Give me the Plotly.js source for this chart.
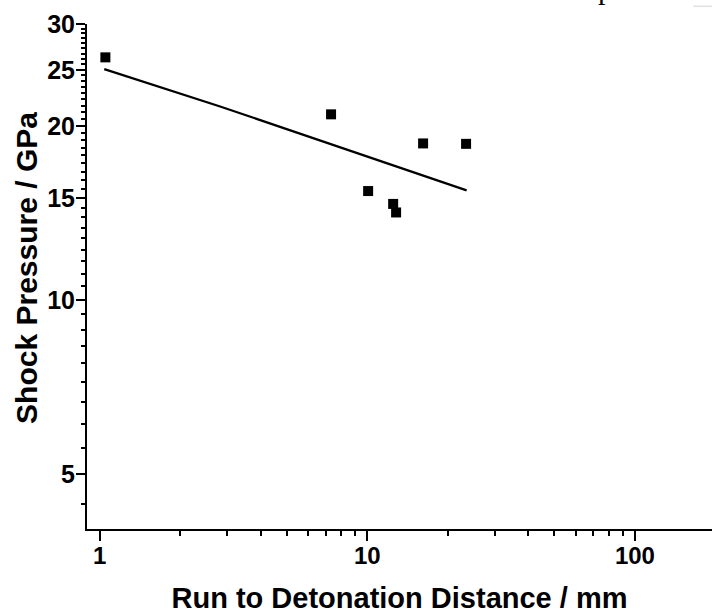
<!DOCTYPE html>
<html>
<head>
<meta charset="utf-8">
<script src="https://cdn.plot.ly/plotly-3.0.1.min.js"></script>
<style>html,body{margin:0;padding:0;background:#fff;overflow:hidden;}</style>
</head>
<body>
<div id="chart" style="width:712px;height:614px;"></div>
<script>
const runDistance = [1.05, 7.32, 10.07, 12.49, 12.81, 16.16, 23.39];   // mm
const shockPressure = [26.27, 20.94, 15.43, 14.66, 14.17, 18.65, 18.62]; // GPa
// Fitted line as drawn in the reference
const fitDistance = [1.04, 2.80, 23.5];
const fitPressure = [25.07, 21.63, 15.47];

// Axis ticks
const xTickVals = [1, 10, 100];
const xTickText = ['1', '10', '100'];
const xMinorVals = [2, 3, 4, 5, 6, 7, 8, 9, 20, 30, 40, 50, 60, 70, 80, 90, 200];
const yTickVals = [5, 10, 15, 20, 25, 30];
const yTickText = ['5', '10', '15', '20', '25', '30'];
const yMinorPerInterval = 8;
const xTitle = 'Run to Detonation Distance / mm';
const yTitle = 'Shock Pressure / GPa';

const yMinorVals = [];
[0].concat(yTickVals).forEach(function (m, i, arr) {
  if (i === arr.length - 1) return;
  const next = arr[i + 1];
  for (let k = 1; k <= yMinorPerInterval; k++) {
    const v = m + (next - m) * k / (yMinorPerInterval + 1);
    if (v > 4.02) yMinorVals.push(v);
  }
});

const font = {family: 'Liberation Sans, Arial, sans-serif', color: '#000'};

const traces = [
  {
    x: fitDistance, y: fitPressure, type: 'scatter', mode: 'lines',
    line: {color: '#000', width: 2.2}, hoverinfo: 'skip', showlegend: false
  },
  {
    x: runDistance, y: shockPressure, type: 'scatter', mode: 'markers',
    marker: {symbol: 'square', size: 10, color: '#000'}, showlegend: false
  }
];

const layout = {
  width: 712, height: 614,
  margin: {l: 87, r: 0, t: 24, b: 85},
  paper_bgcolor: '#fff', plot_bgcolor: '#fff',
  showlegend: false,
  xaxis: {
    type: 'log',
    range: [-0.0475, 2.288],
    showline: true, linecolor: '#000', linewidth: 2,
    showgrid: false, zeroline: false,
    ticks: 'outside', ticklen: 10, tickwidth: 2, tickcolor: '#000',
    tickmode: 'array', tickvals: xTickVals, ticktext: xTickText,
    tickfont: Object.assign({size: 24, weight: 'bold'}, font),
    ticklabelstandoff: -6,
    minor: {tickmode: 'array', tickvals: xMinorVals, ticks: 'outside', ticklen: 5, tickwidth: 2, tickcolor: '#000', showgrid: false},
    title: {text: xTitle, font: Object.assign({size: 29, weight: 'bold'}, font), standoff: 20},
    automargin: false
  },
  yaxis: {
    type: 'log',
    range: [Math.log10(4.02), Math.log10(30)],
    showline: true, linecolor: '#000', linewidth: 2,
    showgrid: false, zeroline: false,
    ticks: 'outside', ticklen: 9, tickwidth: 2, tickcolor: '#000',
    tickmode: 'array', tickvals: yTickVals, ticktext: yTickText,
    tickfont: Object.assign({size: 25, weight: 'bold'}, font),
    ticklabelstandoff: -4,
    minor: {tickmode: 'array', tickvals: yMinorVals, ticks: 'outside', ticklen: 4, tickwidth: 2, tickcolor: '#000', showgrid: false},
    automargin: false
  },
  annotations: [
    {
      xref: 'paper', yref: 'paper', x: -0.096, y: 0.517, xanchor: 'center', yanchor: 'middle',
      text: yTitle, textangle: -90, showarrow: false,
      font: Object.assign({size: 30, weight: 'bold'}, font)
    },
    {
      xref: 'paper', yref: 'paper', x: 0.829, y: 1.036, xanchor: 'center', yanchor: 'bottom',
      text: 'p', showarrow: false, borderpad: 0,
      font: {family: 'Liberation Serif, Times New Roman, serif', size: 30, color: '#000'}
    }
  ],
  shapes: [
    {type: 'line', xref: 'paper', yref: 'paper', x0: 0.97, x1: 1.0, y0: 1.035, y1: 1.035, line: {color: '#e0e0e0', width: 1.5}}
  ]
};

Plotly.newPlot('chart', traces, layout, {displayModeBar: false, staticPlot: true});
</script>
</body>
</html>
